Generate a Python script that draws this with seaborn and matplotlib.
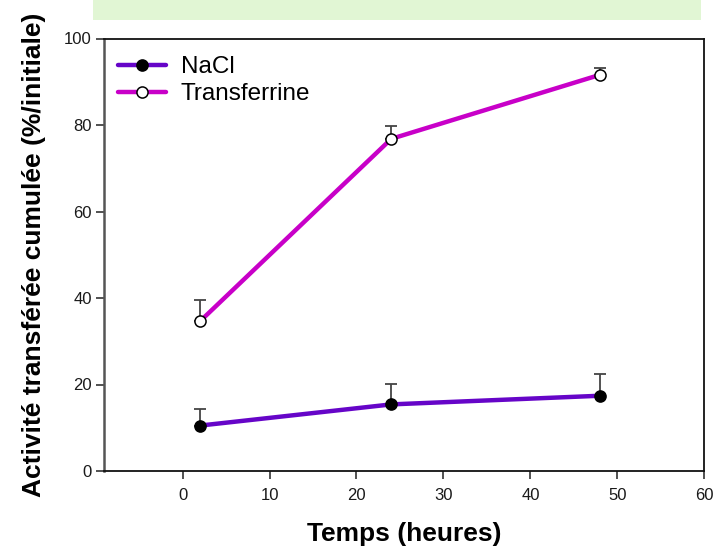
import matplotlib
matplotlib.use("Agg")
import matplotlib.pyplot as plt
import seaborn as sns
import numpy as np
import pandas as pd
from matplotlib.patches import Rectangle

# ---- data ----
temps = [2, 24, 48]
nacl = [10.5, 15.4, 17.4]
nacl_err = [3.9, 4.8, 5.0]
transferrine = [34.6, 76.8, 91.6]
transferrine_err = [4.9, 3.0, 1.6]
series_names = ["NaCl", "Transferrine"]
x_ticks = [0, 10, 20, 30, 40, 50, 60]
y_ticks = [0, 20, 40, 60, 80, 100]
x_label = "Temps (heures)"
y_label = "Activité transférée cumulée (%/initiale)"

df = pd.DataFrame({
    "Temps": temps * 2,
    "Activite": nacl + transferrine,
    "Serie": [series_names[0]] * 3 + [series_names[1]] * 3,
})

sns.set_theme(style="white")
plt.rcParams["font.family"] = ["Liberation Sans", "DejaVu Sans"]

fig = plt.figure(figsize=(7.14, 5.5), dpi=100)
ax = fig.add_axes([104.3 / 714, 1 - 471 / 550, (704.3 - 104.3) / 714, (471 - 38.5) / 550])

# green banner (cut-off slide title area)
fig.patches.append(Rectangle((93 / 714, 1 - 19.5 / 550), (701 - 93) / 714, 19.5 / 550,
                             transform=fig.transFigure, facecolor="#e1f6d4",
                             edgecolor="none", zorder=0))

colors = {"NaCl": "#6605c8", "Transferrine": "#c800c8"}
mfc = {"NaCl": "black", "Transferrine": "white"}
errs = {"NaCl": nacl_err, "Transferrine": transferrine_err}

for name in series_names:
    sub = df[df["Serie"] == name]
    ax.errorbar(sub["Temps"], sub["Activite"],
                yerr=[np.zeros(len(sub)), errs[name]],
                fmt="none", ecolor="#444444", elinewidth=1.3,
                capsize=4, capthick=1.3, zorder=2)
    sns.lineplot(data=sub, x="Temps", y="Activite", ax=ax, color=colors[name],
                 linewidth=3.2, marker="o", markersize=8,
                 markerfacecolor=mfc[name], markeredgecolor="black",
                 markeredgewidth=1.1, label=name, zorder=3)

ax.set_xlim(-9, 60)
ax.set_ylim(0, 100)
ax.set_xticks(x_ticks)
ax.set_yticks(y_ticks)
ax.tick_params(axis="both", direction="out", length=6, width=1.1, color="#222222",
               labelsize=12, labelcolor="#1a1a1a", bottom=True, left=True)
ax.tick_params(axis="x", pad=6)
ax.tick_params(axis="y", pad=3)

ax.set_xlabel(x_label, fontsize=19, fontweight="bold", labelpad=14, color="black")
ax.set_ylabel(y_label, fontsize=19, fontweight="bold", labelpad=13, color="black")

for s in ["top", "right", "bottom"]:
    ax.spines[s].set_color("#111111")
    ax.spines[s].set_linewidth(1.3)
ax.spines["left"].set_color("#555555")
ax.spines["left"].set_linewidth(1.8)

leg = ax.legend(loc="upper left", frameon=False, fontsize=17.5,
                handlelength=2.0, handletextpad=0.6, labelspacing=0.2,
                borderaxespad=0.15, bbox_to_anchor=(0.0, 0.99))
for t in leg.get_texts():
    t.set_color("black")

fig.savefig("out.png", dpi=100)
